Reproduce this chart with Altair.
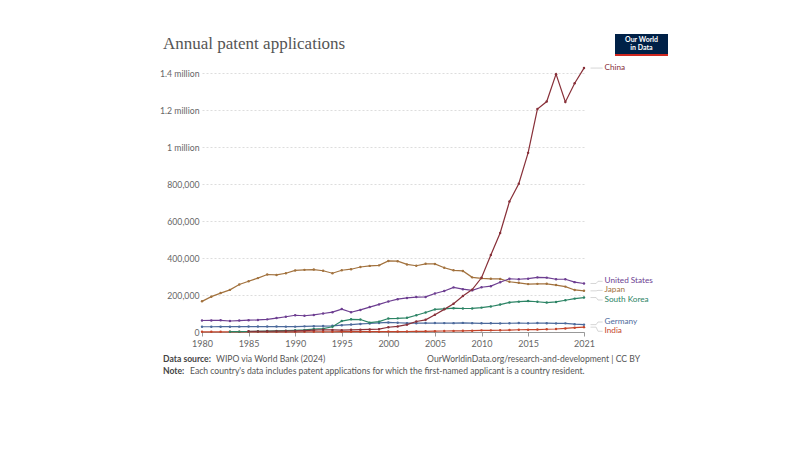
import altair as alt
import pandas as pd

years = list(range(1980, 2022))

china_years = list(range(1985, 2022))
china = [4065, 3494, 4084, 4780, 5392, 5832, 7372, 10024, 12210, 11191, 10011, 11628, 12713, 13726,
         15596, 25592, 30038, 39806, 56769, 65786, 93485, 122318, 153060, 194579, 229096, 293066,
         415829, 535313, 704936, 801135, 968252, 1204981, 1245709, 1393815, 1243568, 1344817, 1426644]

us = [62098, 62404, 63316, 59391, 61841, 63673, 65195, 68315, 75192, 82370, 90643, 87955, 92425, 99955,
      107233, 123962, 106892, 119214, 134733, 149251, 164795, 177511, 184245, 188941, 189536, 207867,
      221784, 241347, 231588, 224912, 241977, 247750, 268782, 287831, 285096, 288335, 295327, 293904,
      285095, 285113, 269586, 262244]

japan = [165730, 191020, 210360, 227708, 256524, 274348, 291301, 310905, 308309, 317353, 332952, 335933,
         337514, 331087, 317678, 333770, 339376, 351487, 357379, 360180, 384201, 382815, 365204, 358184,
         368416, 367960, 347060, 333498, 330110, 295315, 290081, 287580, 287013, 271731, 265959, 258839,
         260244, 260290, 253630, 245372, 227348, 222452]

korea_years = list(range(1983, 2022))
korea = [1599, 1984, 2703, 3641, 4871, 5696, 7148, 9082, 11538, 15910, 17819, 28564, 59236, 68405,
         67359, 50596, 55970, 72831, 73714, 76570, 90313, 105250, 122188, 125476, 128701, 127114, 127316,
         131805, 138034, 148136, 159978, 164073, 167275, 163424, 159084, 162561, 171603, 180477, 186245]

germany = [28500, 28400, 28800, 28700, 29000, 29200, 29500, 29400, 29300, 29000, 29000, 30500, 31500,
           32000, 33500, 36871, 40286, 43452, 46066, 48938, 51736, 49989, 47598, 47818, 48329, 48367,
           48012, 47853, 49240, 47859, 47047, 46986, 46620, 47353, 48154, 47384, 48480, 47785, 46617,
           46632, 42260, 39822]

india = [1100, 1000, 1050, 1000, 1000, 1000, 950, 1000, 1050, 1100, 1147, 1300, 1300, 1250, 1400, 1545,
         1660, 1800, 1900, 2000, 2206, 2379, 2693, 3425, 3619, 4521, 5314, 6040, 6425, 7262, 8853, 8841,
         9553, 10669, 12040, 12579, 13199, 14961, 16289, 19454, 23141, 26267]

countries = ["China", "United States", "Japan", "South Korea", "Germany", "India"]
colors = ["#883039", "#6D3E91", "#A2723E", "#2C8465", "#4C6A9C", "#C4452B"]
label_values = [1426644, 274000, 225000, 173000, 54000, 4000]

x_ticks = [1980, 1985, 1990, 1995, 2000, 2005, 2010, 2015, 2021]
y_ticks = [0, 200000, 400000, 600000, 800000, 1000000, 1200000, 1400000]

series = {
    "India": (years, india),
    "Germany": (years, germany),
    "South Korea": (korea_years, korea),
    "Japan": (years, japan),
    "United States": (years, us),
    "China": (china_years, china),
}

rows = []
for name, (ys, vs) in series.items():
    for y, v in zip(ys, vs):
        rows.append({"country": name, "year": y, "value": v})
df = pd.DataFrame(rows)

end_values = {name: vs[-1] for name, (ys, vs) in series.items()}
conn_rows = []
lab_rows = []
for name, lv in zip(countries, label_values):
    ev = end_values[name]
    conn_rows += [
        {"country": name, "year": 2021.7, "value": ev, "o": 0},
        {"country": name, "year": 2022.3, "value": ev, "o": 1},
        {"country": name, "year": 2022.5, "value": lv, "o": 2},
        {"country": name, "year": 2023.0, "value": lv, "o": 3},
    ]
    lab_rows.append({"country": name, "year": 2023.2, "value": lv})
conn = pd.DataFrame(conn_rows)
labs = pd.DataFrame(lab_rows)

W, H = 382, 259
FONT = "Lato"

xscale = alt.Scale(domain=[1980, 2021], nice=False, zero=False)
yscale = alt.Scale(domain=[0, 1400000], nice=False)
cscale = alt.Scale(domain=countries, range=colors)

x_axis = alt.Axis(values=x_ticks, format="d", title=None, grid=False, domainColor="#999999",
                  tickColor="#999999", tickSize=4, labelFont=FONT, labelFontSize=9,
                  labelColor="#666666", labelPadding=3, labelOverlap=False,
                  labelFlush=False, labelBound=False)
y_axis = alt.Axis(values=y_ticks, tickCount=8,
                  labelExpr="datum.value >= 1000000 ? format(datum.value/1000000, '.1~f') + ' million' : format(datum.value, ',')",
                  title=None, domain=False, ticks=False, grid=True, gridColor="#dddddd",
                  gridDash=[2, 2], labelFont=FONT, labelFontSize=8.7, labelColor="#666666",
                  labelPadding=3, labelOverlap=False, labelFlush=False, labelBound=False)


def X(field="year:Q"):
    return alt.X(field, scale=xscale, axis=x_axis)


def Y(field="value:Q"):
    return alt.Y(field, scale=yscale, axis=y_axis)


C = alt.Color("country:N", scale=cscale, legend=None)

base = alt.Chart(df)
lines = base.mark_line(strokeWidth=1.2).encode(x=X(), y=Y(), color=C, detail="country:N",
                                                order="year:Q")
points = base.mark_circle(size=6, opacity=1).encode(x=X(), y=Y(), color=C)

connectors = alt.Chart(conn).mark_line(strokeWidth=0.8, color="#cccccc").encode(
    x=X(), y=Y(), detail="country:N", order="o:Q")
labels = alt.Chart(labs).mark_text(align="left", baseline="middle", font=FONT, fontSize=8.2).encode(
    x=X(), y=Y(), text="country:N", color=C)

one = alt.Data(values=[{}])


def txt(s, x, y, size=8, weight="normal", color="#5b5b5b", align="left", font=FONT, baseline="middle"):
    return alt.Chart(one).mark_text(text=s, align=align, baseline=baseline, font=font, fontSize=size,
                                    fontWeight=weight, color=color).encode(
        x=alt.value(x), y=alt.value(y))


title = txt("Annual patent applications", -39, -29, size=17, color="#555555",
            font="Liberation Serif")
src_b = txt("Data source:", -39, 286, size=8.6, weight="bold", color="#444444")
src = txt("WIPO via World Bank (2024)", 14, 286, size=8.6, color="#555555")
url = txt("OurWorldinData.org/research-and-development  | CC BY", 438, 286, size=8.6,
          color="#555555", align="right")
note_b = txt("Note:", -39, 298, size=8.6, weight="bold", color="#444444")
note = txt("Each country's data includes patent applications for which the first-named applicant is a country resident.",
           -12, 298, size=8.6, color="#555555")

logo_box = alt.Chart(one).mark_rect(color="#002147").encode(
    x=alt.value(413), x2=alt.value(466), y=alt.value(-39), y2=alt.value(-18))
logo_red = alt.Chart(one).mark_rect(color="#ce261e").encode(
    x=alt.value(413), x2=alt.value(466), y=alt.value(-19), y2=alt.value(-17))
logo1 = txt("Our World", 439.5, -33, size=7, weight="bold", color="#ffffff", align="center")
logo2 = txt("in Data", 439.5, -25, size=7, weight="bold", color="#ffffff", align="center")

chart = alt.layer(lines, points, connectors, labels, title, src_b, src, url, note_b, note,
                  logo_box, logo_red, logo1, logo2).properties(
    width=W, height=H,
    autosize=alt.AutoSizeParams(type="none"),
    padding={"left": 194, "top": 65, "right": 208, "bottom": 110},
).configure(background="white").configure_view(strokeWidth=0)

chart.save("out.html", embed_options={"renderer": "svg", "actions": False})
